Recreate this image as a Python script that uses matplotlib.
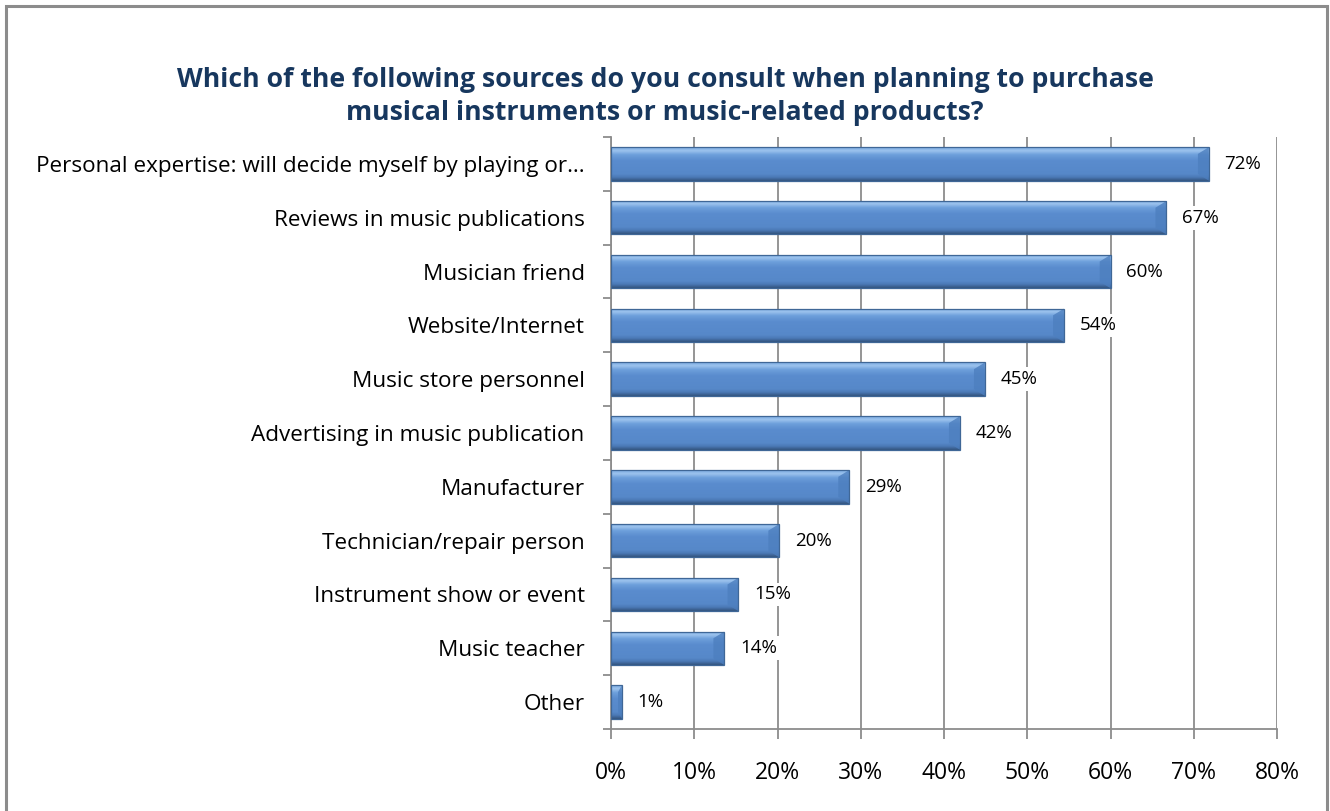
import numpy as np
import matplotlib
matplotlib.use("Agg")
import matplotlib.pyplot as plt
from matplotlib.patches import Rectangle, Polygon
from matplotlib.colors import LinearSegmentedColormap

plt.rcParams['font.family'] = ['Open Sans', 'DejaVu Sans']

title_lines = ["Which of the following sources do you consult when planning to purchase",
               "musical instruments or music-related products?"]
categories = [
    "Personal expertise: will decide myself by playing or…",
    "Reviews in music publications",
    "Musician friend",
    "Website/Internet",
    "Music store personnel",
    "Advertising in music publication",
    "Manufacturer",
    "Technician/repair person",
    "Instrument show or event",
    "Music teacher",
    "Other",
]
values = [71.8, 66.7, 60.0, 54.4, 44.9, 41.9, 28.6, 20.2, 15.3, 13.6, 1.3]
xticks = [0, 10, 20, 30, 40, 50, 60, 70, 80]
xtick_labels = [f"{t}%" for t in xticks]

W, H = 1330, 811
fig = plt.figure(figsize=(W / 100, H / 100), dpi=100)
fig.patch.set_facecolor("white")

# outer chart frame
frame = Rectangle((6 / W, -0.02), (1327 - 6) / W, 1 - 6 / H + 0.02,
                  transform=fig.transFigure, fill=False,
                  edgecolor="#8c8c8c", linewidth=2.2)
fig.patches.append(frame)

for text, ypx in zip(title_lines, [80, 113]):
    fig.text(0.5, 1 - ypx / H, text, ha="center", va="center",
             fontsize=19.2, fontweight="bold", color="#17375E")

ax = fig.add_axes([611 / W, 1 - 729 / H, (1277 - 611) / W, (729 - 137) / H])
n = len(categories)
ax.set_xlim(0, 80)
ax.set_ylim(n - 0.5, -0.5)

grid_c = "#8c8c8c"
for t in xticks:
    ax.axvline(t, color=grid_c, linewidth=1.3, zorder=0)
for s in ["top", "right"]:
    ax.spines[s].set_visible(False)
for s in ["left", "bottom"]:
    ax.spines[s].set_color(grid_c)
    ax.spines[s].set_linewidth(1.3)

ax.set_xticks(xticks)
ax.set_xticklabels(xtick_labels, fontsize=16.5)
ax.tick_params(axis="x", length=7, width=1.3, color=grid_c, pad=16)

ax.set_yticks(np.arange(n))
ax.set_yticklabels(categories, fontsize=16.2)
ax.tick_params(axis="y", length=0, pad=19)
ax.set_yticks(np.arange(n + 1) - 0.5, minor=True)
ax.tick_params(axis="y", which="minor", length=6, width=1.3, color=grid_c)

# bevelled bar fill: light top, mid blue body, darker lower edge
cmap = LinearSegmentedColormap.from_list("bevel", [
    (0.0, "#7aaae0"), (0.10, "#9cc3ee"), (0.22, "#6d9fdb"),
    (0.40, "#5a8cce"), (0.80, "#5688c9"), (0.90, "#4a78b4"),
    (1.0, "#34557f")])
grad = np.linspace(0, 1, 64).reshape(-1, 1)
bh = 0.62
for i, v in enumerate(values):
    y0 = i - bh / 2
    im = ax.imshow(grad, cmap=cmap, aspect="auto", interpolation="bilinear",
                   extent=(0, v, i + bh / 2, y0), zorder=2)
    rect = Rectangle((0, y0), v, bh, facecolor="none",
                     edgecolor="#3f6797", linewidth=0.9, zorder=3)
    ax.add_patch(rect)
    im.set_clip_path(rect)
    # right-end bevel facet
    bev = min(1.3, v * 0.35)
    ax.add_patch(Polygon([(v - bev, y0 + bh * 0.2), (v, y0), (v, i + bh / 2),
                          (v - bev, i + bh / 2 - bh * 0.2)],
                         closed=True, facecolor="#4d7fbf", edgecolor="none",
                         alpha=0.8, zorder=2.5))
    ax.text(v + 1.9, i, f"{v:.0f}%", va="center", ha="left", fontsize=13.5,
            color="black", zorder=4,
            bbox=dict(facecolor="white", edgecolor="none", pad=2))

fig.savefig("out.png", dpi=100)
